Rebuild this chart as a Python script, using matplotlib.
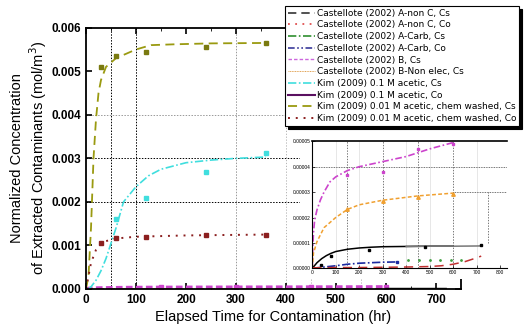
import matplotlib.pyplot as plt
from matplotlib.lines import Line2D
from matplotlib.patches import Rectangle

# ---- main plot data (Kim 2009) ----
olive_t = [30, 60, 120, 240, 360]
olive_c = [0.0051, 0.00535, 0.00545, 0.00555, 0.00565]
olive_fit_t = [0, 5, 10, 15, 20, 25, 30, 40, 50, 60, 80, 100, 130, 180, 250, 360]
olive_fit_c = [0, 0.0003, 0.0014, 0.003, 0.0039, 0.0045, 0.0048, 0.0051, 0.0052,
               0.0053, 0.0054, 0.0055, 0.0056, 0.00562, 0.00564, 0.00565]

cyan_t = [60, 120, 240, 360]
cyan_c = [0.0016, 0.0021, 0.00268, 0.00313]
cyan_fit_t = [5, 10, 20, 30, 40, 50, 60, 75, 100, 125, 150, 200, 250, 300, 360]
cyan_fit_c = [0, 0.00005, 0.0002, 0.00042, 0.0007, 0.00105, 0.0014, 0.002, 0.00235,
              0.0026, 0.00275, 0.0029, 0.00296, 0.003, 0.00303]

red_t = [30, 60, 120, 240, 360]
red_c = [0.00105, 0.00117, 0.0012, 0.00123, 0.00125]
red_fit_t = [0, 5, 10, 20, 30, 40, 60, 100, 200, 360]
red_fit_c = [0, 0.0003, 0.0006, 0.0009, 0.00105, 0.0011, 0.00116, 0.0012, 0.00123, 0.00125]

# ---- inset data (Castellote 2002) ----
mag_t = [150, 300, 450, 600]
mag_c = [0.0000368, 0.000038, 0.000047, 0.000049]
mag_fit_t = [0, 2, 5, 10, 20, 35, 50, 75, 100, 150, 200, 300, 400, 450, 500, 600]
mag_fit_c = [0, 0.000008, 0.000014, 0.000019, 0.000023, 0.000027, 0.00003, 0.000034,
             0.000036, 0.0000385, 0.00004, 0.000042, 0.000044, 0.0000455, 0.000047, 0.0000495]

ora_t = [150, 300, 450, 600]
ora_c = [0.0000234, 0.0000266, 0.000028, 0.0000293]
ora_fit_t = [0, 5, 20, 50, 100, 150, 200, 300, 450, 600]
ora_fit_c = [0, 0.000006, 0.0000105, 0.000016, 0.00002, 0.0000232, 0.000025,
             0.0000268, 0.0000285, 0.0000296]

blk_t = [36, 80, 240, 480, 720]
blk_c = [0.0000012, 0.0000047, 0.0000073, 0.0000083, 0.000009]
blk_fit_t = [0, 20, 40, 60, 80, 100, 150, 200, 250, 300, 400, 500, 600, 720]
blk_fit_c = [0, 0.0000022, 0.0000038, 0.000005, 0.0000059, 0.0000066, 0.0000075,
             0.000008, 0.0000083, 0.0000085, 0.0000086, 0.0000087, 0.0000087, 0.0000088]

blu_t = [360]
blu_c = [0.0000025]
blu_fit_t = [0, 50, 100, 150, 200, 250, 300, 360]
blu_fit_c = [0, 0.0000005, 0.000001, 0.0000016, 0.000002, 0.0000022, 0.0000024, 0.0000025]

grn_t = [410, 455, 500, 545, 590, 635]
grn_c = [0.0000032] * 6

rd_t = [0, 100, 200, 300, 400, 500, 550, 600, 650, 700, 720]
rd_c = [0.0000002, 0.0000003, 0.0000003, 0.0000004, 0.0000005, 0.0000007, 0.000001,
        0.0000016, 0.0000026, 0.0000041, 0.0000048]

legend_labels = [
    "Castellote (2002) A-non C, Cs",
    "Castellote (2002) A-non C, Co",
    "Castellote (2002) A-Carb, Cs",
    "Castellote (2002) A-Carb, Co",
    "Castellote (2002) B, Cs",
    "Castellote (2002) B-Non elec, Cs",
    "Kim (2009) 0.1 M acetic, Cs",
    "Kim (2009) 0.1 M acetic, Co",
    "Kim (2009) 0.01 M acetic, chem washed, Cs",
    "Kim (2009) 0.01 M acetic, chem washed, Co",
]

c_olive = '#9a9a10'
c_olive_pt = '#7a7a10'
c_cyan = '#40dede'
c_dred = '#8b1f1f'
c_mag = '#cc44cc'
c_ora = '#f0a030'

plt.rcParams['font.family'] = ['Liberation Sans', 'DejaVu Sans']

fig = plt.figure(figsize=(5.27, 3.31), dpi=100)
ax = fig.add_axes([0.1632, 0.1269, 0.7116, 0.7894])

# grid lines
for x, col in [(50, 'black'), (100, 'black'), (300, '#999999')]:
    ax.axvline(x, color=col, ls=(0, (1.5, 1.5)), lw=0.7, zorder=0)
for x in [400, 450, 550]:
    ax.axvline(x, color='#aaaaaa', ls=(0, (1.5, 2)), lw=0.6, zorder=0)
for y, col in [(0.002, 'black'), (0.003, 'black'), (0.004, '#999999')]:
    ax.axhline(y, color=col, ls=(0, (1.5, 1.5)), lw=0.7, zorder=0)

# near-zero Castellote series on the main scale
ax.plot(mag_fit_t, mag_fit_c, color=c_mag, ls=(0, (2, 1)), lw=2.4)
ax.plot(mag_t, mag_c, 's', color=c_mag, ms=3)
ax.plot(rd_t, rd_c, color='#c03030', ls=(0, (5, 3)), lw=1)
ax.plot(blk_fit_t[12:], blk_fit_c[12:], color='black', lw=1.2)

# Kim 2009 series
ax.plot(olive_fit_t, olive_fit_c, color=c_olive, ls=(0, (5, 3)), lw=1.3)
ax.plot(olive_t, olive_c, 's', color=c_olive_pt, ms=3)
ax.plot(cyan_fit_t, cyan_fit_c, color=c_cyan, ls=(0, (5, 1.5, 1, 1.5)), lw=1.2)
ax.plot(cyan_t, cyan_c, 's', color=c_cyan, ms=3)
ax.plot(red_fit_t, red_fit_c, color=c_dred, ls=(0, (1, 3)), lw=1.4)
ax.plot(red_t, red_c, 's', color=c_dred, ms=3)

ax.set_xlim(0, 750)
ax.set_ylim(0, 0.006)
ax.set_xticks([0, 100, 200, 300, 400, 500, 600, 700])
ax.set_yticks([0, 0.001, 0.002, 0.003, 0.004, 0.005, 0.006])
ax.set_yticklabels(['0.000', '0.001', '0.002', '0.003', '0.004', '0.005', '0.006'])
ax.set_xticks(range(50, 750, 100), minor=True)
ax.tick_params(direction='in', top=True, right=True, width=1.2, length=4,
               labelsize=8.5)
ax.tick_params(which='minor', direction='in', top=True, length=2.5)
for lab in ax.get_xticklabels() + ax.get_yticklabels():
    lab.set_fontweight('bold')
for s in ax.spines.values():
    s.set_linewidth(1.3)
ax.set_xlabel('Elapsed Time for Contamination (hr)', fontsize=10.5, labelpad=3)
ax.set_ylabel('Normalized Concentration\nof Extracted Contaminants (mol/m$^3$)',
              fontsize=10.5, labelpad=2)

# white block behind the pasted inset
fig.patches.append(Rectangle((300 / 527, 1 - 279 / 331), 227 / 527, 151 / 331,
                             transform=fig.transFigure, facecolor='white',
                             edgecolor='none', zorder=1))

ins = fig.add_axes([312.3 / 527, 1 - 268.3 / 331, 194.7 / 527, 127 / 331], zorder=2)
for x in [150, 300, 450, 600]:
    ins.axvline(x, color='#444444', ls=(0, (2, 2)), lw=0.5, zorder=0)
for x in [100, 200, 400, 500, 700]:
    ins.axvline(x, color='#dddddd', lw=0.5, zorder=0)
ins.axhline(0.00004, color='#444444', ls=(0, (1, 1)), lw=0.6, zorder=0)
ins.plot([600, 830], [0.00003, 0.00003], color='#444444', ls=(0, (1, 1)), lw=0.6, zorder=0)
ins.plot([750, 750], [0.00001, 0.00003], color='#444444', ls=(0, (2, 2)), lw=0.5, zorder=0)

ins.plot(mag_fit_t, mag_fit_c, color=c_mag, ls=(0, (4, 1.5, 1, 1.5)), lw=1.2)
ins.plot(mag_t, mag_c, 's', color=c_mag, ms=2)
ins.plot(ora_fit_t, ora_fit_c, color=c_ora, ls=(0, (2.5, 1.5)), lw=1.1)
ins.plot(ora_t, ora_c, '^', color=c_ora, ms=2.5)
ins.plot(blk_fit_t[:13], blk_fit_c[:13], color='black', lw=1.1)
ins.plot(blk_fit_t[10:], blk_fit_c[10:], color='#777777', lw=1.1)
ins.plot(blk_t, blk_c, 's', color='black', ms=2)
ins.plot(blu_fit_t, blu_fit_c, color='#1a2aa0', ls=(0, (5, 1.5, 1, 1.5)), lw=1.2)
ins.plot(blu_t, blu_c, 's', color='#1a2aa0', ms=2)
ins.plot(grn_t, grn_c, '.', color='#40a040', ms=2)
ins.plot(rd_t, rd_c, color='#c03030', ls=(0, (6, 4)), lw=1.1)

ins.set_xlim(0, 830)
ins.set_ylim(0, 0.00005)
ins.set_xticks(range(0, 900, 100))
ins.set_yticks([0, 0.00001, 0.00002, 0.00003, 0.00004, 0.00005])
ins.set_yticklabels(['0.00000', '0.00001', '0.00002', '0.00003', '0.00004', '0.00005'])
ins.tick_params(direction='in', labelsize=3.5, length=2, width=0.5, pad=1.5)
for side in ['right', 'top']:
    ins.spines[side].set_visible(False)
ins.plot([0, 1], [1, 1], transform=ins.transAxes, color='black', lw=1.2, clip_on=False)
ins.spines['left'].set_linewidth(0.8)
ins.spines['bottom'].set_linewidth(0.8)

# legend
handles = [
    Line2D([], [], color='#333333', ls=(0, (5, 3)), lw=1.2),
    Line2D([], [], color='#e05050', ls=(0, (1, 3)), lw=1.3),
    Line2D([], [], color='#2f8f2f', ls=(0, (5, 1.5, 1, 1.5)), lw=1.2),
    Line2D([], [], color='#3a3a9a', ls=(0, (4, 1.5, 1, 1.5, 1, 1.5)), lw=1.2),
    Line2D([], [], color='#cc66dd', ls=(0, (2.5, 1.5)), lw=1.0),
    Line2D([], [], color='#e0a050', ls=(0, (1, 0.7)), lw=0.7),
    Line2D([], [], color=c_cyan, ls=(0, (5, 1.5, 1, 1.5)), lw=1.2),
    Line2D([], [], color='#5a1060', lw=1.5),
    Line2D([], [], color=c_olive, ls=(0, (5, 3)), lw=1.3),
    Line2D([], [], color=c_dred, ls=(0, (1, 3)), lw=1.4),
]
leg = fig.legend(handles, legend_labels, loc='upper left',
                 bbox_to_anchor=(285 / 527, 1 - 6 / 331), prop={'family': 'DejaVu Sans', 'size': 6.5},
                 frameon=True, fancybox=False, edgecolor='black', framealpha=1,
                 handlelength=3.0, handletextpad=0.2, labelspacing=0.3,
                 borderpad=0.3, borderaxespad=0,
                 shadow={'color': 'black', 'alpha': 1})
leg.get_frame().set_linewidth(0.8)

fig.savefig('out.png', dpi=100)
